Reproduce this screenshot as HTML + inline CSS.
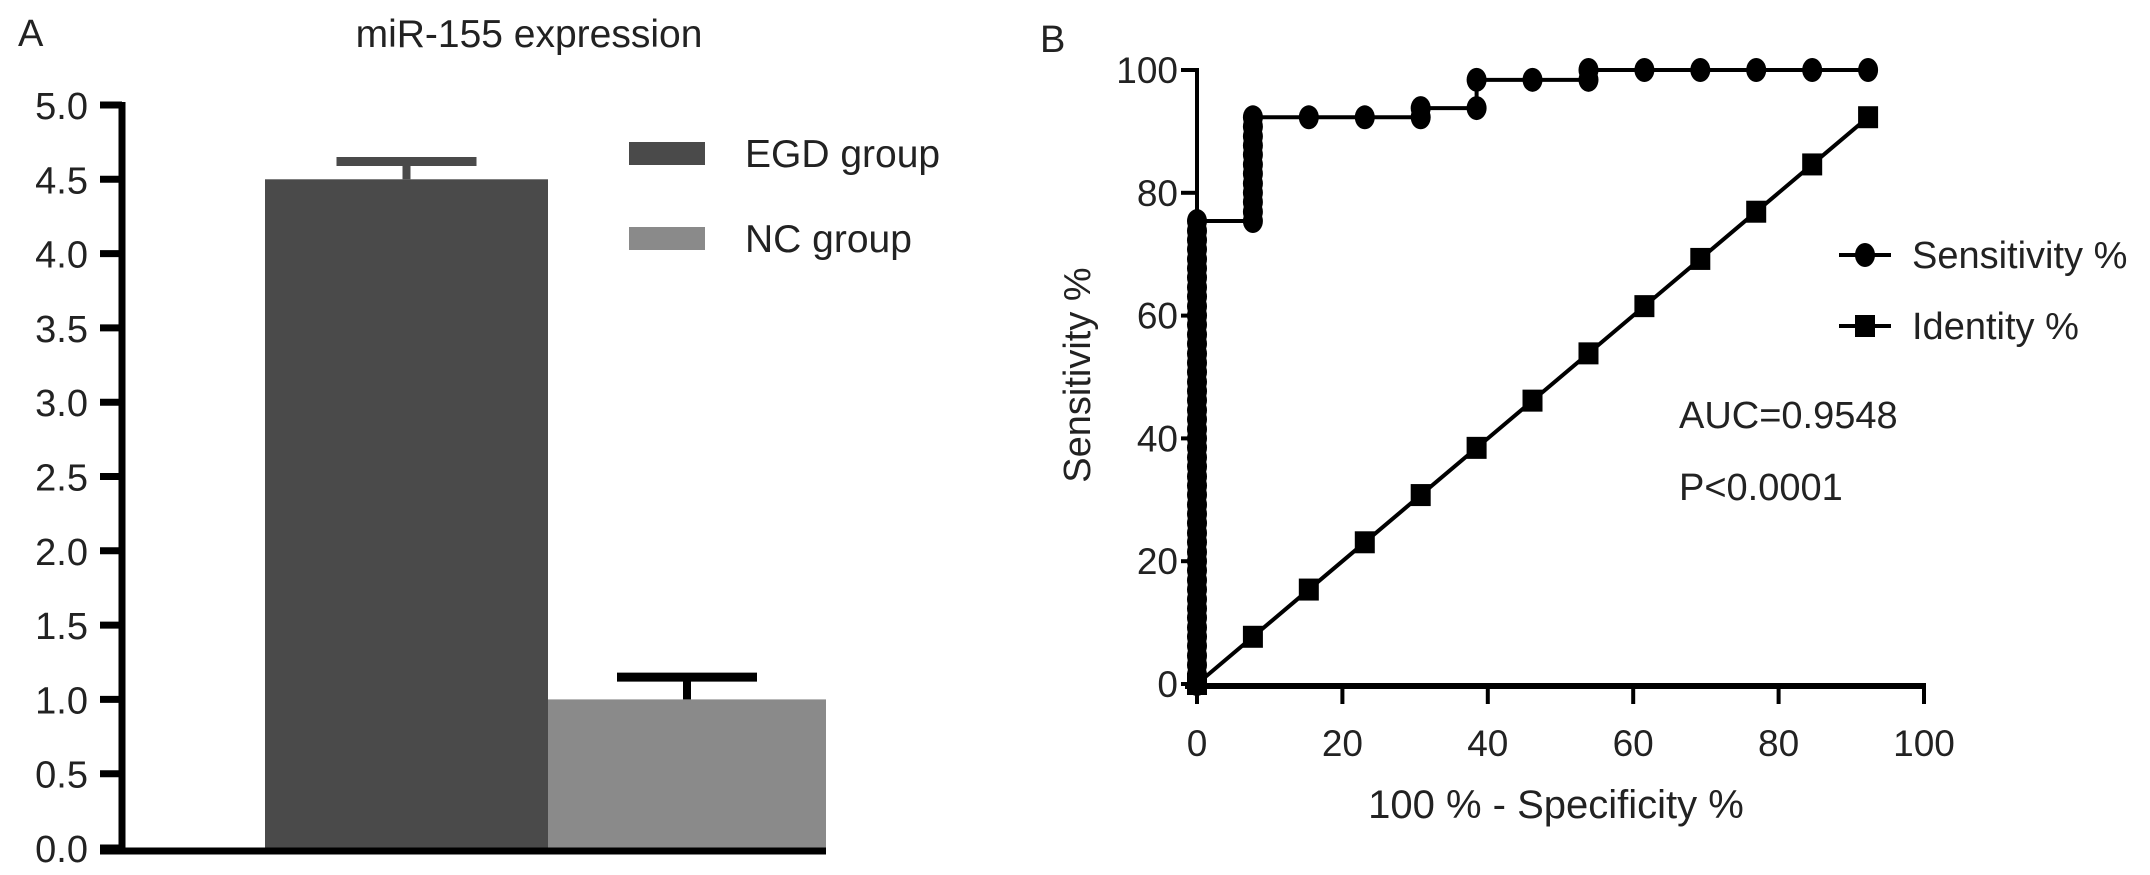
<!DOCTYPE html>
<html><head><meta charset="utf-8"><style>
html,body{margin:0;padding:0;background:#fff;}
svg{display:block;font-family:"Liberation Sans",Arial,sans-serif;}
</style></head><body>
<svg id="fig" width="2150" height="875" viewBox="0 0 2150 875" xmlns="http://www.w3.org/2000/svg">
<g id="pa"></g>
<g id="pb"></g>
</svg>
<script>
// Panel A data
const barCategories = ["EGD group", "NC group"];
const barValues = [4.5, 1.0];
const barErrors = [0.12, 0.15];
const yTicksA = [0, 0.5, 1.0, 1.5, 2.0, 2.5, 3.0, 3.5, 4.0, 4.5, 5.0];
// Panel B data
const rocX = [0,0,0,0,0,0,0,0,0,0,0,0,0,0,0,0,0,0,0,0,0,0,0,0,0,0,0,0,0,0,0,0,0,0,0,0,0,0,0,0,0,0,0,0,0,0,0,0,0,0,
 7.69,7.69,7.69,7.69,7.69,7.69,7.69,7.69,7.69,7.69,7.69,7.69,
 15.38,23.08,30.77,30.77,38.46,38.46,46.15,53.85,53.85,61.54,69.23,76.92,84.62,92.31];
const rocY = [0,1.5,3.1,4.6,6.2,7.7,9.2,10.8,12.3,13.8,15.4,16.9,18.5,20,21.5,23.1,24.6,26.2,27.7,29.2,30.8,32.3,33.8,35.4,36.9,38.5,40,41.5,43.1,44.6,46.2,47.7,49.2,50.8,52.3,53.8,55.4,56.9,58.5,60,61.5,63.1,64.6,66.2,67.7,69.2,70.8,72.3,73.8,75.4,
 75.4,76.9,78.5,80,81.5,83.1,84.6,86.2,87.7,89.2,90.8,92.3,
 92.3,92.3,92.3,93.8,93.8,98.4,98.4,98.4,100,100,100,100,100,100];
const idX = [0,7.69,15.38,23.08,30.77,38.46,46.15,53.85,61.54,69.23,76.92,84.62,92.31];
const idY = [0,7.69,15.38,23.08,30.77,38.46,46.15,53.85,61.54,69.23,76.92,84.62,92.31];
const ticksB = [0,20,40,60,80,100];

const NS="http://www.w3.org/2000/svg";
function mk(parent,tag,attrs,text){const e=document.createElementNS(NS,tag);for(const k in attrs)e.setAttribute(k,attrs[k]);if(text!==undefined)e.textContent=text;parent.appendChild(e);return e;}

// ---------- Panel A ----------
const pa=document.getElementById('pa');
const ayA=v=>848-v*148.6;
let t;
t=mk(pa,'text',{x:18,y:46,'font-size':38,fill:'#222'},'A');


t=mk(pa,'text',{x:529,y:47,'font-size':39,'text-anchor':'middle',fill:'#222'},'miR-155 expression');


const barLeft=[265,548], barW=[283,278], barFill=['#4a4a4a','#8a8a8a'], capFill=['#4a4a4a','#000'];
barValues.forEach((v,i)=>{
  const r=mk(pa,'rect',{x:barLeft[i],y:ayA(v),width:barW[i],height:848-ayA(v),fill:barFill[i]});
  
  
  const cx=barLeft[i]+barW[i]/2, top=ayA(v+barErrors[i]);
  const eb=mk(pa,'g',{});
  
  
  mk(eb,'line',{x1:cx,y1:ayA(v),x2:cx,y2:top,stroke:capFill[i],'stroke-width':8});
  mk(eb,'line',{x1:cx-70,y1:top,x2:cx+70,y2:top,stroke:capFill[i],'stroke-width':9});
});
const axA=mk(pa,'g',{});


mk(axA,'line',{x1:122,y1:ayA(5)-3,x2:122,y2:852,stroke:'#000','stroke-width':7});
yTicksA.forEach(v=>{
  mk(axA,'line',{x1:100,y1:ayA(v),x2:122,y2:ayA(v),stroke:'#000','stroke-width':7});
  const l=mk(axA,'text',{x:88,y:ayA(v)+14,'font-size':38,'text-anchor':'end',fill:'#222'},v.toFixed(1));
  
  
});
t=mk(pa,'line',{x1:100,y1:851,x2:826,y2:851,stroke:'#000','stroke-width':7});


const legY=[142,227];
barCategories.forEach((c,i)=>{
  const g=mk(pa,'g',{});
  
  
  mk(g,'rect',{x:629,y:legY[i],width:76,height:23,fill:barFill[i]});
  mk(g,'text',{x:745,y:legY[i]+25,'font-size':39,fill:'#222'},c);
});

// ---------- Panel B ----------
const pb=document.getElementById('pb');
const bx=v=>1197+v*7.27, by=v=>684-v*6.14;
t=mk(pb,'text',{x:1040,y:52,'font-size':38,fill:'#222'},'B');


const axB=mk(pb,'g',{});


mk(axB,'line',{x1:1197,y1:by(100)-2,x2:1197,y2:by(0)+3,stroke:'#000','stroke-width':4});
mk(axB,'line',{x1:1185,y1:by(0)+2,x2:bx(100)+2,y2:by(0)+2,stroke:'#000','stroke-width':6});
ticksB.forEach(v=>{
  mk(axB,'line',{x1:1181,y1:by(v),x2:1197,y2:by(v),stroke:'#000','stroke-width':4});
  const ly=mk(axB,'text',{x:1178,y:by(v)+13,'font-size':37,'text-anchor':'end',fill:'#222'},String(v));
  
  
  mk(axB,'line',{x1:bx(v),y1:by(0),x2:bx(v),y2:by(0)+20,stroke:'#000','stroke-width':4});
  const lx=mk(axB,'text',{x:bx(v),y:by(0)+72,'font-size':37,'text-anchor':'middle',fill:'#222'},String(v));
  
  
});
t=mk(pb,'text',{x:1556,y:818,'font-size':40,'text-anchor':'middle',fill:'#222'},'100 % - Specificity %');


t=mk(pb,'text',{x:0,y:0,'font-size':38,'text-anchor':'middle',fill:'#222',transform:'translate(1090,375) rotate(-90)'},'Sensitivity %');



// identity line
const idG=mk(pb,'g',{});


mk(idG,'polyline',{points:idX.map((x,i)=>bx(x)+','+by(idY[i])).join(' '),fill:'none',stroke:'#000','stroke-width':4});
idX.forEach((x,i)=>{
  const s=mk(idG,'rect',{x:bx(x)-10,y:by(idY[i])-11,width:20,height:22,fill:'#000'});
  
  
});
// sensitivity
const sG=mk(pb,'g',{});


mk(sG,'polyline',{points:rocX.map((x,i)=>bx(x)+','+by(rocY[i])).join(' '),fill:'none',stroke:'#000','stroke-width':4});
rocX.forEach((x,i)=>{
  const c=mk(sG,'ellipse',{cx:bx(x),cy:by(rocY[i]),rx:10,ry:12,fill:'#000'});
  
  
});
// legend
const legB=[['Sensitivity %','circle',255],['Identity %','square',326]];
legB.forEach(l=>{
  const g=mk(pb,'g',{});
  
  
  mk(g,'line',{x1:1839,y1:l[2],x2:1891,y2:l[2],stroke:'#000','stroke-width':4});
  if(l[1]==='circle') mk(g,'ellipse',{cx:1865,cy:l[2],rx:10,ry:12,fill:'#000'});
  else mk(g,'rect',{x:1855,y:l[2]-11,width:20,height:22,fill:'#000'});
  mk(g,'text',{x:1912,y:l[2]+13,'font-size':38,fill:'#222'},l[0]);
});
t=mk(pb,'text',{x:1679,y:428,'font-size':38,fill:'#222'},'AUC=0.9548');


t=mk(pb,'text',{x:1679,y:500,'font-size':38,fill:'#222'},'P<0.0001');


</script>
</body></html>
